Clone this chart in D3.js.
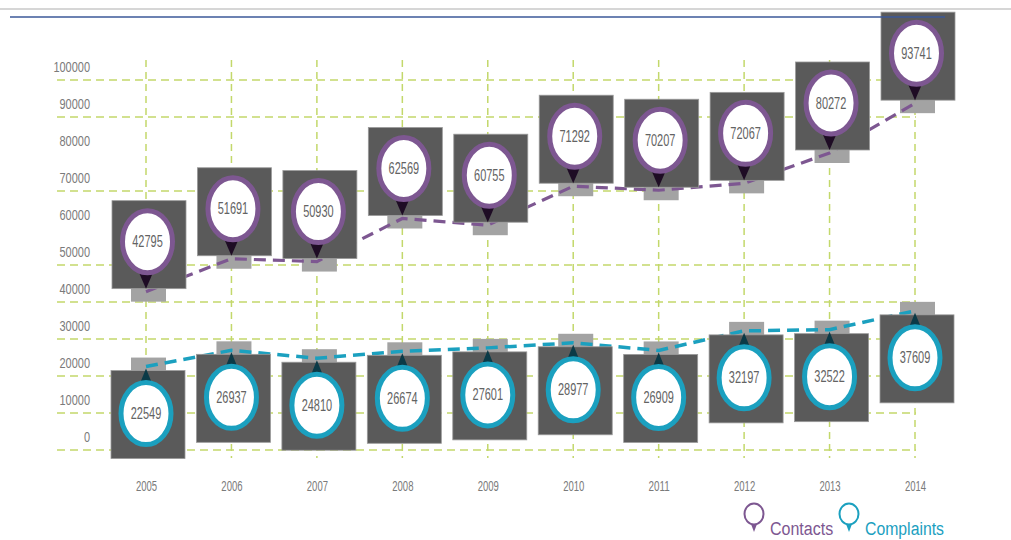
<!DOCTYPE html>
<html>
<head>
<meta charset="utf-8">
<script src="https://cdn.jsdelivr.net/npm/d3@7"></script>
<style>
  body { margin: 0; background: #fff; }
  text { font-family: "Liberation Sans", "DejaVu Sans", sans-serif; }
</style>
</head>
<body>
<div class="chart"></div>
<script>
var years = ["2005","2006","2007","2008","2009","2010","2011","2012","2013","2014"];
var contacts = [42795, 51691, 50930, 62569, 60755, 71292, 70207, 72067, 80272, 93741];
var complaints = [22549, 26937, 24810, 26674, 27601, 28977, 26909, 32197, 32522, 37609];
var yTicks = [0, 10000, 20000, 30000, 40000, 50000, 60000, 70000, 80000, 90000, 100000];
// gridlines that are drawn, and the year where each one stops
var gridRows = [[0,"2014"],[10000,"2014"],[20000,"2014"],[30000,"2014"],[40000,"2014"],
  [50000,"2014"],[70000,"2011"],[90000,"2014"],[100000,"2014"]];
var legendItems = ["Contacts", "Complaints"];

var W = 1011, H = 540;
var purple = "#7d5791", teal = "#1ba0bf", grid = "#c3d86b";

var svg = d3.select(".chart").append("svg")
  .attr("width", W)
  .attr("height", H);

var x = d3.scalePoint().domain(years).range([146, 915]);
var y = d3.scaleLinear().domain([0, 100000]).range([450, 80]);

// squeeze text so it looks like the narrow office font
var narrow = function(sel, perChar){
  sel.attr("textLength", function(){ return this.textContent.length * perChar; })
    .attr("lengthAdjust", "spacingAndGlyphs");
};

// grid
svg.append("g").selectAll("line").data(years).enter()
  .append("line")
  .attr("x1", function(d){ return x(d); })
  .attr("x2", function(d){ return x(d); })
  .attr("y1", 60).attr("y2", 458)
  .style("stroke", grid).style("stroke-width", 1.5)
  .style("stroke-dasharray", "7,5");

svg.append("g").selectAll("line").data(gridRows).enter()
  .append("line")
  .attr("x1", 57)
  .attr("x2", function(d){ return x(d[1]) + 1; })
  .attr("y1", function(d){ return y(d[0]); })
  .attr("y2", function(d){ return y(d[0]); })
  .style("stroke", grid).style("stroke-width", 1.5)
  .style("stroke-dasharray", "8,5");

// axis labels
var yAxis = d3.axisLeft(y).tickValues(yTicks).tickSize(0).tickPadding(0)
  .tickFormat(d3.format("d"));
var ya = svg.append("g").attr("transform", "translate(90,-13)").call(yAxis);
ya.select(".domain").remove();
ya.selectAll("text").style("font-size", "15px").style("fill", "#7a7a7a")
  .style("font-family", "'Liberation Sans', sans-serif")
  .call(narrow, 6.1);

var xAxis = d3.axisBottom(x).tickSize(0).tickPadding(0);
var xa = svg.append("g").attr("transform", "translate(0,481)").call(xAxis);
xa.select(".domain").remove();
xa.selectAll("text").style("font-size", "14px").style("fill", "#7a7a7a")
  .style("font-family", "'Liberation Sans', sans-serif")
  .call(narrow, 5.3);

var cData = years.map(function(d, i){ return {year: d, v: contacts[i]}; });
var pData = years.map(function(d, i){ return {year: d, v: complaints[i]}; });

// light tabs under the lines
svg.append("g").selectAll("rect").data(cData).enter()
  .append("rect")
  .attr("x", function(d){ return x(d.year) - 15; })
  .attr("y", function(d){ return y(d.v) - 3; })
  .attr("width", 35).attr("height", 13)
  .style("fill", "#a3a3a3");

svg.append("g").selectAll("rect").data(pData).enter()
  .append("rect")
  .attr("x", function(d){ return x(d.year) - 15; })
  .attr("y", function(d){ return y(d.v) - 9; })
  .attr("width", 35).attr("height", 13)
  .style("fill", "#a3a3a3");

// dashed lines
var line = d3.line()
  .x(function(d){ return x(d.year); })
  .y(function(d){ return y(d.v); });

svg.append("path").datum(cData)
  .attr("d", line)
  .style("fill", "none").style("stroke", purple)
  .style("stroke-width", 3.2).style("stroke-dasharray", "12,7");

svg.append("path").datum(pData)
  .attr("d", line)
  .style("fill", "none").style("stroke", teal)
  .style("stroke-width", 3.5).style("stroke-dasharray", "12,7");

// contact markers: box above the point, pin pointing down
var cm = svg.append("g").selectAll("g").data(cData).enter()
  .append("g")
  .attr("transform", function(d){ return "translate(" + x(d.year) + "," + y(d.v) + ")"; });

cm.append("rect")
  .attr("x", -34).attr("y", -91).attr("width", 74).attr("height", 88)
  .style("fill", "#5a5a5a").style("stroke", "#9a9a9a").style("stroke-width", 0.8);
cm.append("path")
  .attr("d", "M-6.5,-18 L6.5,-18 L0,-3 Z")
  .style("fill", "#1e0c24");
cm.append("ellipse")
  .attr("cx", 1.5).attr("cy", -50).attr("rx", 25).attr("ry", 31)
  .style("fill", "#fff").style("stroke", purple).style("stroke-width", 5);
cm.append("text")
  .attr("x", 1.5).attr("y", -50).attr("dy", "0.35em")
  .attr("text-anchor", "middle")
  .style("font-size", "16px").style("fill", "#636363")
  .text(function(d){ return d.v; })
  .call(narrow, 6.1);

// complaint markers: box below the point, pin pointing up
var pm = svg.append("g").selectAll("g").data(pData).enter()
  .append("g")
  .attr("transform", function(d){ return "translate(" + x(d.year) + "," + y(d.v) + ")"; });

pm.append("rect")
  .attr("x", -35).attr("y", 4).attr("width", 74).attr("height", 88)
  .style("fill", "#5a5a5a").style("stroke", "#9a9a9a").style("stroke-width", 0.8);
pm.append("path")
  .attr("d", "M-6.5,18 L6.5,18 L0,2 Z")
  .style("fill", "#0b3a47");
pm.append("ellipse")
  .attr("cx", 0).attr("cy", 47).attr("rx", 25).attr("ry", 31)
  .style("fill", "#fff").style("stroke", teal).style("stroke-width", 5);
pm.append("text")
  .attr("x", 0).attr("y", 47).attr("dy", "0.35em")
  .attr("text-anchor", "middle")
  .style("font-size", "16px").style("fill", "#636363")
  .text(function(d){ return d.v; })
  .call(narrow, 6.1);

// top rules
svg.append("line").attr("x1", 0).attr("x2", W).attr("y1", 9).attr("y2", 9)
  .style("stroke", "#c9c9c9").style("stroke-width", 1.5);
svg.append("line").attr("x1", 10).attr("x2", 945).attr("y1", 17).attr("y2", 17)
  .style("stroke", "#3b5998").style("stroke-width", 1.5);

// legend
var legend = svg.append("g").selectAll("g").data(legendItems).enter()
  .append("g")
  .attr("transform", function(d, i){ return "translate(" + (i === 0 ? 754 : 849) + ",0)"; });

legend.append("ellipse")
  .attr("cx", 0).attr("cy", 514).attr("rx", 9.5).attr("ry", 10.5)
  .style("fill", "none")
  .style("stroke", function(d, i){ return i === 0 ? purple : teal; })
  .style("stroke-width", 2);
legend.append("path")
  .attr("d", "M-3,524 L3,524 L0,532 Z")
  .style("fill", function(d, i){ return i === 0 ? purple : teal; });
legend.append("text")
  .attr("x", 16).attr("y", 535)
  .style("font-size", "18px")
  .style("fill", function(d, i){ return i === 0 ? purple : teal; })
  .text(function(d){ return d; })
  .call(narrow, 7.9);
</script>
</body>
</html>
